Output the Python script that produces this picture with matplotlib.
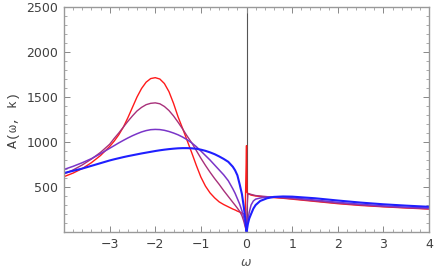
import matplotlib
matplotlib.use("Agg")
import matplotlib.pyplot as plt
from matplotlib.ticker import MultipleLocator, FixedLocator

# left branch (omega < 0)
w_left = [-4.0, -3.8, -3.6, -3.4, -3.2, -3.0, -2.9, -2.8, -2.7, -2.6, -2.5,
          -2.4, -2.3, -2.2, -2.1, -2.0, -1.9, -1.8, -1.7, -1.6, -1.5,
          -1.4, -1.3, -1.2, -1.1, -1.0, -0.9, -0.8, -0.7, -0.6, -0.5,
          -0.4, -0.3, -0.25, -0.2, -0.15, -0.1, -0.06, -0.03]
red_left = [615, 655, 705, 770, 850, 950, 1010, 1080, 1165, 1270, 1385,
            1500, 1595, 1665, 1705, 1715, 1700, 1650, 1560, 1430, 1280,
            1150, 1015, 880, 740, 610, 510, 435, 380, 335, 305,
            280, 255, 245, 232, 222, 210, 200, 190]
mag_left = [645, 690, 745, 810, 885, 975, 1040, 1100, 1165, 1230, 1290,
            1345, 1385, 1415, 1430, 1435, 1425, 1395, 1350, 1290, 1220,
            1145, 1065, 990, 905, 820, 740, 665, 595, 530, 460,
            395, 330, 298, 265, 230, 180, 120, 60]
pur_left = [695, 730, 770, 815, 870, 930, 960, 990, 1018, 1045, 1070,
            1092, 1112, 1127, 1137, 1140, 1138, 1130, 1117, 1100, 1080,
            1055, 1025, 990, 948, 900, 850, 800, 745, 690, 635,
            570, 480, 430, 370, 310, 235, 160, 90]
blu_left = [655, 680, 705, 735, 765, 795, 808, 820, 832, 843, 853,
            863, 873, 882, 891, 900, 908, 915, 921, 926, 930,
            932, 932, 930, 925, 915, 902, 885, 865, 840, 812,
            780, 725, 685, 630, 530, 420, 280, 160]

# right branch (omega >= 0)
w_right = [0.0, 0.01, 0.03, 0.06, 0.1, 0.15, 0.2, 0.3, 0.45, 0.6, 0.8,
           1.0, 1.5, 2.0, 2.5, 3.0, 3.5, 4.0]
red_right = [960, 440, 430, 420, 410, 405, 400, 395, 388, 382, 375,
             365, 340, 315, 295, 280, 267, 255]
mag_right = [5, 250, 420, 425, 418, 412, 405, 400, 393, 388, 378,
             370, 345, 320, 300, 283, 270, 258]
pur_right = [5, 60, 130, 220, 300, 345, 365, 378, 390, 392, 388,
             380, 355, 330, 308, 290, 275, 265]
blu_right = [5, 30, 90, 150, 200, 260, 300, 345, 375, 390, 395,
             393, 375, 350, 327, 308, 293, 280]

x_ticks = [-3, -2, -1, 0, 1, 2, 3, 4]
y_ticks = [500, 1000, 1500, 2000, 2500]

series = [
    (red_left, red_right, "#ff1a1a", 1.0),
    (mag_left, mag_right, "#a8307a", 1.0),
    (pur_left, pur_right, "#7a35c8", 1.1),
    (blu_left, blu_right, "#1f1fff", 1.5),
]

fig = plt.figure(figsize=(4.36, 2.70), dpi=100)
ax = fig.add_axes([0.1468, 0.1407, 0.8372, 0.8333])

ax.axvline(0, color="#555555", lw=0.8, zorder=1)

for left, right, col, lw in series:
    ax.plot(w_left + w_right, left + right, color=col, lw=lw, zorder=2)

ax.set_xlim(-4, 4)
ax.set_ylim(0, 2500)

ax.xaxis.set_major_locator(FixedLocator(x_ticks))
ax.xaxis.set_minor_locator(MultipleLocator(0.2))
ax.yaxis.set_major_locator(FixedLocator(y_ticks))
ax.yaxis.set_minor_locator(MultipleLocator(100))

for s in ax.spines.values():
    s.set_color("#999999")
    s.set_linewidth(1.0)

ax.tick_params(which="both", direction="in", top=True, right=True,
               color="#888888", labelcolor="#404040", labelsize=9, pad=4)
ax.tick_params(which="major", length=4, width=0.7)
ax.tick_params(which="minor", length=2, width=0.5)

ax.set_xlabel("ω", style="italic", color="#555555", fontsize=9, labelpad=4)
ax.set_ylabel("A(ω, k)", family="Liberation Mono", color="#404040",
              fontsize=9.5, labelpad=5)

fig.savefig("out.png", dpi=100)
